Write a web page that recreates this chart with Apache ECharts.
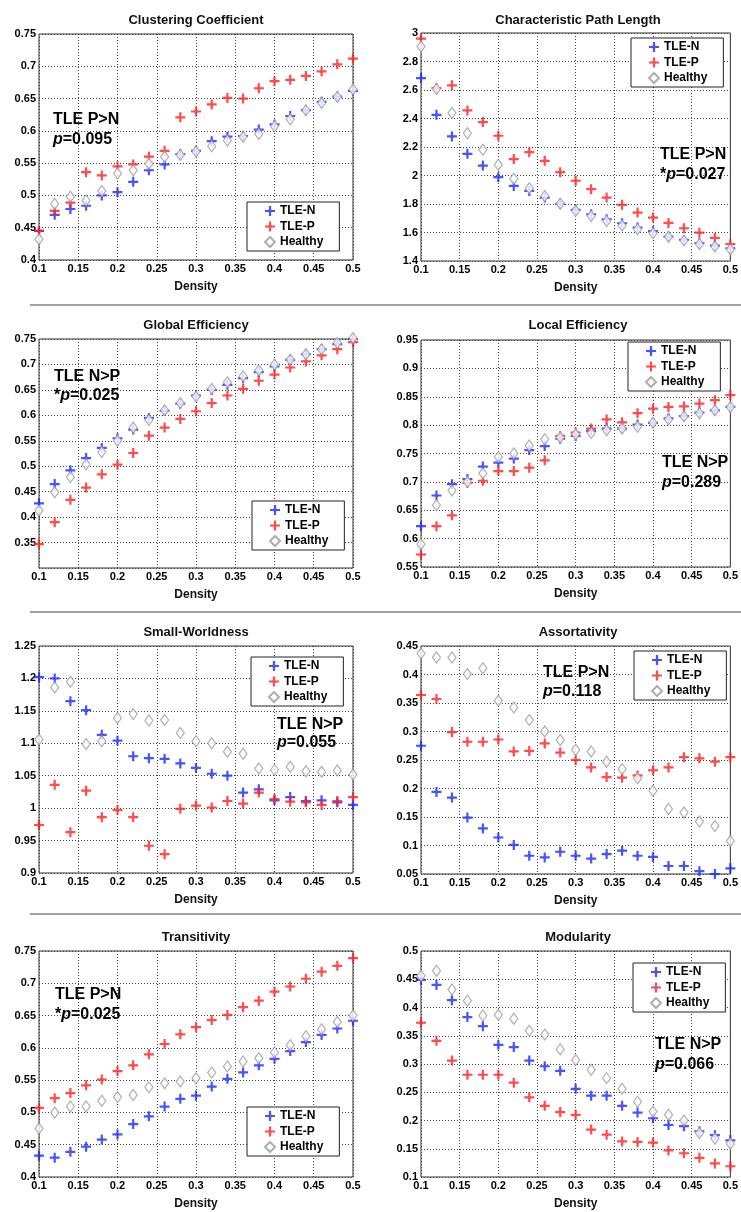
<!DOCTYPE html>
<html>
<head>
<meta charset="utf-8">
<script src="https://cdn.jsdelivr.net/npm/echarts@6/dist/echarts.min.js"></script>
<style>
html,body{margin:0;padding:0;background:#fff;}
#chart{width:741px;height:1212px;}
</style>
</head>
<body>
<div id="chart"></div>
<script>
// ---------- data ----------
const density = [0.10,0.12,0.14,0.16,0.18,0.20,0.22,0.24,0.26,0.28,0.30,0.32,0.34,0.36,0.38,0.40,0.42,0.44,0.46,0.48,0.50];
const seriesNames = ['TLE-N','TLE-P','Healthy'];
const panelTitles = ['Clustering Coefficient','Characteristic Path Length','Global Efficiency','Local Efficiency','Small-Worldness','Assortativity','Transitivity','Modularity'];
const panelNotes = [['TLE P>N','','0.095'],['TLE P>N','*','0.027'],['TLE N>P','*','0.025'],['TLE N>P','','0.289'],['TLE N>P','','0.055'],['TLE P>N','','0.118'],['TLE P>N','*','0.025'],['TLE N>P','','0.066']];
const xTicks = [0.1, 0.5, 0.05];
const yMin = [0.4, 1.4, 0.3, 0.55, 0.9, 0.05, 0.4, 0.1];
const yMax = [0.75, 3, 0.75, 0.95, 1.25, 0.45, 0.75, 0.5];
const yStep = [0.05, 0.2, 0.05, 0.05, 0.05, 0.05, 0.05, 0.05];

const ccN = [0.445,0.470,0.479,0.484,0.500,0.505,0.521,0.539,0.548,0.564,0.569,0.584,0.591,0.592,0.602,0.610,0.623,0.632,0.645,0.653,0.662];
const ccP = [0.445,0.476,0.489,0.536,0.531,0.545,0.548,0.560,0.569,0.621,0.630,0.641,0.651,0.650,0.666,0.677,0.679,0.685,0.692,0.703,0.712];
const ccH = [0.432,0.487,0.498,0.492,0.507,0.534,0.539,0.549,0.560,0.563,0.568,0.576,0.585,0.591,0.595,0.607,0.618,0.632,0.643,0.653,0.664];

const cplN = [2.684,2.426,2.274,2.152,2.070,1.988,1.927,1.892,1.845,1.801,1.759,1.728,1.693,1.665,1.635,1.609,1.571,1.548,1.525,1.508,1.489];
const cplP = [2.960,2.614,2.633,2.457,2.375,2.279,2.115,2.164,2.103,2.023,1.963,1.904,1.845,1.794,1.740,1.705,1.667,1.630,1.599,1.562,1.518];
const cplH = [2.906,2.607,2.438,2.297,2.180,2.075,1.977,1.911,1.857,1.801,1.752,1.716,1.681,1.649,1.623,1.595,1.571,1.543,1.520,1.501,1.482];

const geN = [0.427,0.465,0.492,0.516,0.536,0.555,0.572,0.595,0.609,0.623,0.639,0.650,0.660,0.673,0.685,0.696,0.709,0.720,0.730,0.740,0.750];
const geP = [0.347,0.390,0.434,0.458,0.484,0.503,0.526,0.560,0.576,0.593,0.608,0.624,0.639,0.652,0.668,0.680,0.694,0.706,0.718,0.730,0.744];
const geH = [0.413,0.449,0.479,0.504,0.528,0.550,0.576,0.591,0.610,0.624,0.637,0.652,0.665,0.677,0.688,0.700,0.709,0.720,0.730,0.742,0.752];

const leN = [0.622,0.676,0.696,0.705,0.727,0.734,0.741,0.756,0.763,0.776,0.781,0.790,0.794,0.794,0.801,0.804,0.812,0.816,0.822,0.826,0.832];
const leP = [0.572,0.622,0.641,0.698,0.702,0.719,0.719,0.725,0.738,0.781,0.787,0.794,0.810,0.805,0.821,0.829,0.832,0.833,0.838,0.844,0.853];
const leH = [0.590,0.659,0.685,0.700,0.715,0.744,0.750,0.764,0.775,0.778,0.784,0.786,0.791,0.794,0.797,0.804,0.810,0.815,0.821,0.826,0.832];

const swN = [1.202,1.200,1.165,1.151,1.113,1.104,1.080,1.077,1.076,1.069,1.062,1.053,1.050,1.024,1.029,1.012,1.017,1.011,1.012,1.009,1.005];
const swP = [0.974,1.036,0.963,1.027,0.986,0.997,0.986,0.942,0.929,0.999,1.004,1.001,1.011,1.007,1.024,1.014,1.010,1.009,1.005,1.011,1.017];
const swH = [1.106,1.186,1.195,1.099,1.103,1.139,1.145,1.135,1.136,1.116,1.103,1.100,1.087,1.084,1.061,1.059,1.064,1.057,1.056,1.058,1.052];

const asN = [0.275,0.194,0.184,0.149,0.130,0.114,0.101,0.082,0.079,0.089,0.082,0.077,0.085,0.091,0.082,0.080,0.064,0.064,0.055,0.050,0.060];
const asP = [0.364,0.357,0.299,0.282,0.282,0.286,0.265,0.266,0.279,0.263,0.250,0.237,0.220,0.219,0.223,0.232,0.237,0.255,0.253,0.247,0.255];
const asH = [0.437,0.430,0.430,0.401,0.411,0.354,0.342,0.320,0.300,0.285,0.268,0.265,0.247,0.234,0.218,0.196,0.164,0.158,0.142,0.134,0.108];

const trN = [0.433,0.430,0.439,0.447,0.458,0.466,0.482,0.494,0.509,0.521,0.526,0.540,0.552,0.562,0.573,0.583,0.595,0.609,0.620,0.630,0.642];
const trP = [0.507,0.522,0.530,0.542,0.551,0.564,0.573,0.590,0.606,0.621,0.632,0.643,0.651,0.663,0.673,0.687,0.695,0.707,0.718,0.727,0.739];
const trH = [0.475,0.500,0.509,0.509,0.518,0.524,0.527,0.539,0.545,0.548,0.553,0.562,0.571,0.579,0.584,0.593,0.604,0.618,0.629,0.640,0.650];

const mdN = [0.449,0.440,0.413,0.383,0.367,0.334,0.330,0.306,0.296,0.288,0.256,0.244,0.244,0.226,0.214,0.204,0.192,0.190,0.181,0.174,0.165];
const mdP = [0.373,0.341,0.306,0.281,0.281,0.281,0.267,0.241,0.226,0.215,0.210,0.184,0.175,0.163,0.162,0.161,0.147,0.142,0.134,0.124,0.119];
const mdH = [0.456,0.465,0.432,0.412,0.386,0.387,0.380,0.359,0.352,0.326,0.307,0.290,0.275,0.256,0.233,0.216,0.210,0.200,0.178,0.168,0.159];

const panelData = [[ccN,ccP,ccH],[cplN,cplP,cplH],[geN,geP,geH],[leN,leP,leH],[swN,swP,swH],[asN,asP,asH],[trN,trP,trH],[mdN,mdP,mdH]];

// ---------- layout ----------
const FONT = '"Liberation Sans", Arial, Helvetica, sans-serif';
const grids = [
  {left:39, top:34, width:314, height:226},
  {left:421, top:33, width:314, height:228},
  {left:39, top:339, width:314, height:229},
  {left:421, top:340, width:314, height:227},
  {left:39, top:646, width:314, height:227},
  {left:421, top:646, width:314, height:228},
  {left:39, top:951, width:314, height:226},
  {left:421, top:951, width:314, height:226}
];
const titleY = [20, 20, 325, 325, 632, 632, 937, 937];
const noteXY = [[53,120,140],[660,155,175],[54,377,396],[662,463,483],[277,725,743],[543,673,692],[55,995,1015],[655,1045,1065]];
const legendPos = [[247,202],[631,38],[252,501],[628,342],[251,657],[634,651],[247,1107],[633,963]];
const sepY = [305, 612, 914];

const plusPath = 'path://M-1.1,-5L1.1,-5L1.1,-1.1L5,-1.1L5,1.1L1.1,1.1L1.1,5L-1.1,5L-1.1,1.1L-5,1.1L-5,-1.1L-1.1,-1.1ZM0,-2.7L2.7,0L0,2.7L-2.7,0Z';
const styles = [
  {symbol: plusPath, symbolSize: 10, itemStyle: {color: '#1a2aff'}},
  {symbol: plusPath, symbolSize: 10, itemStyle: {color: '#ff2020'}},
  {symbol: 'diamond', symbolSize: [8, 11], itemStyle: {color: '#ffffff', borderColor: '#9a9a9a', borderWidth: 1.2}}
];

const xAxis = [], yAxis = [], series = [], legend = [], graphic = [];
grids.forEach((g, i) => {
  xAxis.push({
    type: 'value', gridIndex: i, min: xTicks[0], max: xTicks[1], interval: xTicks[2],
    name: 'Density', nameLocation: 'middle', nameGap: 21,
    nameTextStyle: {fontFamily: FONT, fontWeight: 'bold', fontSize: 12, color: '#111'},
    axisLine: {show: false}, axisTick: {show: false},
    axisLabel: {fontFamily: FONT, fontWeight: 'bold', fontSize: 11, color: '#000', margin: 3,
      formatter: v => String(+v.toFixed(2))},
    splitLine: {show: true, lineStyle: {color: '#444', width: 1, type: [1, 2]}}
  });
  const lo = yMin[i];
  yAxis.push({
    type: 'value', gridIndex: i, min: yMin[i], max: yMax[i], interval: yStep[i],
    axisLine: {show: false}, axisTick: {show: false},
    axisLabel: {fontFamily: FONT, fontWeight: 'bold', fontSize: 11, color: '#000', margin: 3,
      formatter: v => (i === 2 && Math.abs(v - lo) < 1e-9) ? '' : String(+v.toFixed(2))},
    splitLine: {show: true, lineStyle: {color: '#444', width: 1, type: [1, 2]}}
  });
  seriesNames.forEach((nm, k) => {
    series.push(Object.assign({
      type: 'scatter', name: nm, xAxisIndex: i, yAxisIndex: i, clip: false, z: 3 + k,
      data: density.map((d, j) => [d, panelData[i][k][j]])
    }, styles[k]));
  });
  legend.push({
    data: seriesNames, orient: 'vertical', left: legendPos[i][0], top: legendPos[i][1],
    padding: [3, 16, 3, 17], itemGap: 3.5, itemWidth: 10, itemHeight: 10,
    backgroundColor: '#fff', borderColor: '#222', borderWidth: 1, selectedMode: false,
    textStyle: {fontFamily: FONT, fontWeight: 'bold', fontSize: 12, color: '#000'}
  });
  graphic.push({
    type: 'text', z: 10,
    style: {text: panelTitles[i], x: g.left + g.width / 2, y: titleY[i], textAlign: 'center', textVerticalAlign: 'middle',
      fill: '#111', font: 'bold 13px ' + FONT}
  });
  const note = panelNotes[i];
  graphic.push({
    type: 'text', z: 10,
    style: {text: note[0], x: noteXY[i][0], y: noteXY[i][1], textVerticalAlign: 'middle',
      fill: '#000', font: 'bold 16px ' + FONT}
  });
  graphic.push({
    type: 'text', z: 10,
    style: {text: note[1] + '{i|p}=' + note[2], x: noteXY[i][0], y: noteXY[i][2], textVerticalAlign: 'middle',
      fill: '#000', font: 'bold 16px ' + FONT,
      rich: {i: {fontStyle: 'italic', fontWeight: 'bold', fontSize: 16, fontFamily: FONT, fill: '#000'}}}
  });
});
sepY.forEach(y => {
  graphic.push({type: 'line', shape: {x1: 30, y1: y, x2: 741, y2: y}, style: {stroke: '#a0a0a0', lineWidth: 2}});
});

const chart = echarts.init(document.getElementById('chart'), null, {renderer: 'canvas'});
chart.setOption({
  animation: false,
  backgroundColor: '#fff',
  grid: grids.map(g => Object.assign({show: true, borderColor: '#333', borderWidth: 1, backgroundColor: '#fff', containLabel: false}, g)),
  xAxis, yAxis, series, legend, graphic
});
</script>
</body>
</html>
